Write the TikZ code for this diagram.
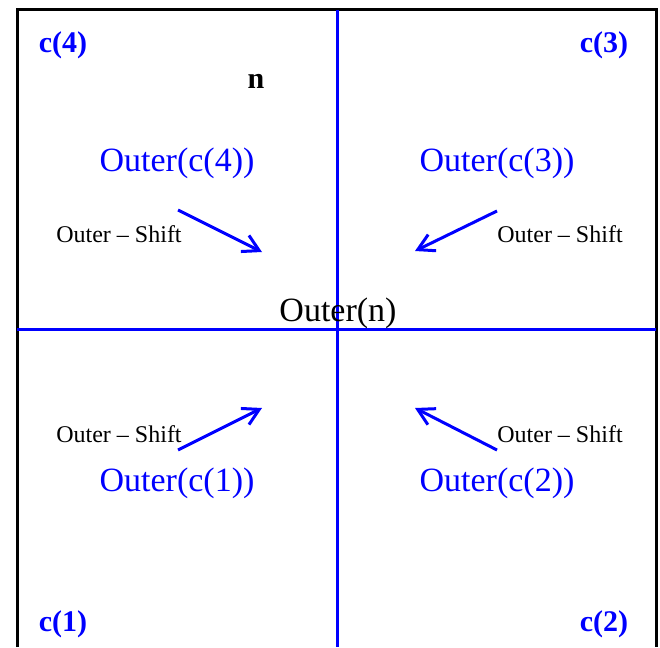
\documentclass[tikz,border=0pt]{standalone}
\usepackage{fontspec}
\setmainfont{Liberation Serif}
\usetikzlibrary{arrows.meta}
\definecolor{quadblue}{HTML}{0000FF}

\begin{document}
\begin{tikzpicture}[
    x=1pt, y=-1pt,
    frame/.style={line width=3pt, black},
    split/.style={line width=3pt, quadblue},
    cname/.style={text=quadblue, font=\fontsize{30}{34}\selectfont\bfseries, inner sep=0pt},
    outer/.style={text=quadblue, font=\fontsize{34}{38}\selectfont, inner sep=0pt},
    shiftlbl/.style={font=\fontsize{24}{28}\selectfont, inner sep=0pt},
    shiftarr/.style={-{Straight Barb[length=16pt, width=18pt, line width=3pt]}, line width=3pt, quadblue}
  ]
  \useasboundingbox (0,0) rectangle (660,647);
  % outer frame, open at the bottom
  \draw[frame] (17,647) -- (17,10) -- (656,10) -- (656,647);
  % quadrant split
  \coordinate (vtop) at (337,10);
  \coordinate (vbot) at (337,647);
  \coordinate (hleft) at (17,329);
  \coordinate (hright) at (656,329);
  \draw[split] (vtop) -- (vbot);
  \draw[split] (hleft) -- (hright);
  % corner names
  \node[cname] (c4) at (63,45) {c(4)};
  \node[cname] (c3) at (604,45) {c(3)};
  \node[cname] (c1) at (63,624) {c(1)};
  \node[cname] (c2) at (604,624) {c(2)};
  \node[font=\fontsize{30}{34}\selectfont\bfseries, inner sep=0pt] (n) at (256,81) {n};
  % outer boxes of the children
  \node[outer] (o4) at (177,163) {Outer(c(4))};
  \node[outer] (o3) at (497,163) {Outer(c(3))};
  \node[outer] (o1) at (177,483) {Outer(c(1))};
  \node[outer] (o2) at (497,483) {Outer(c(2))};
  \node[outer, text=black] (on) at (338,313) {Outer(n)};
  % shift labels
  \node[shiftlbl] (s4) at (119,234) {Outer -- Shift};
  \node[shiftlbl] (s3) at (560,234) {Outer -- Shift};
  \node[shiftlbl] (s1) at (119,434) {Outer -- Shift};
  \node[shiftlbl] (s2) at (560,434) {Outer -- Shift};
  % shift arrows
  \coordinate (a4s) at (178,210);
  \coordinate (a4e) at (262,252);
  \coordinate (a3s) at (497,211);
  \coordinate (a3e) at (415,251);
  \coordinate (a1s) at (178,450);
  \coordinate (a1e) at (262,408);
  \coordinate (a2s) at (497,450);
  \coordinate (a2e) at (415,408);
  \draw[shiftarr] (a4s) -- (a4e);
  \draw[shiftarr] (a3s) -- (a3e);
  \draw[shiftarr] (a1s) -- (a1e);
  \draw[shiftarr] (a2s) -- (a2e);
\end{tikzpicture}
\end{document}
